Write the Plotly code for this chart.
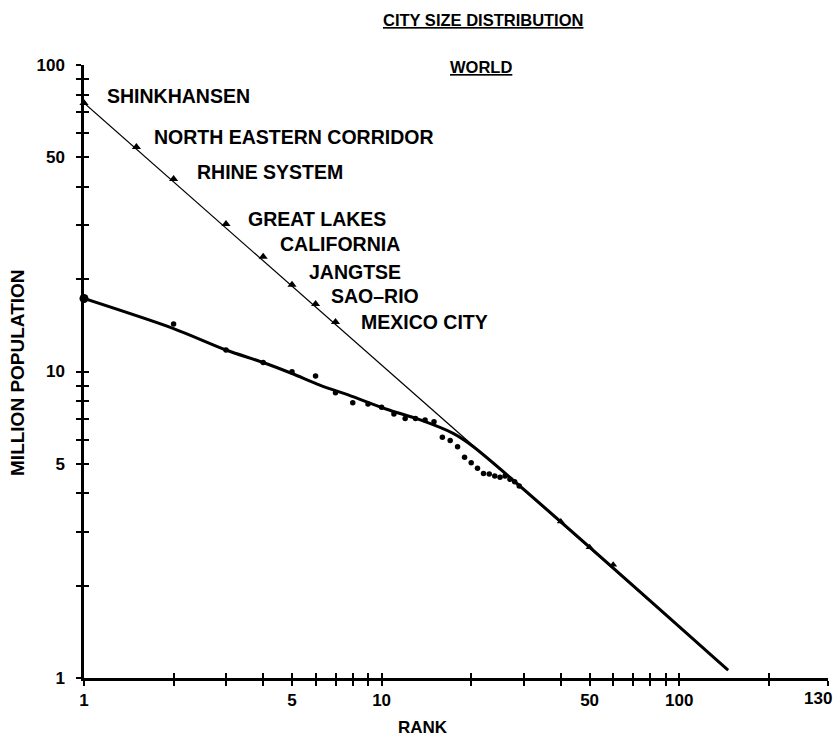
import math
import plotly.graph_objects as go

# --- data -------------------------------------------------------------
# Megalopolis systems (rank, million population)
mega_names = ["SHINKHANSEN", "NORTH EASTERN CORRIDOR", "RHINE SYSTEM",
              "GREAT LAKES", "CALIFORNIA", "JANGTSE", "SAO\u2013RIO", "MEXICO CITY"]
mega_rank = [1, 1.5, 2, 3, 4, 5, 6, 7]
mega_pop = [75.2, 54.0, 42.5, 30.3, 23.7, 19.2, 16.6, 14.5]

# Rank-size (Zipf) line through the megalopolis systems
zipf_rank = [1, 146]
zipf_pop = [75.2, 1.06]

# Individual cities
city_rank = [1, 2, 3, 4, 5, 6, 7, 8, 9, 10, 11, 12, 13, 14, 15, 16, 17, 18, 19,
             20, 21, 22, 23, 24, 25, 26, 27, 28, 29]
city_pop = [17.3, 14.3, 11.75, 10.7, 9.98, 9.67, 8.53, 7.91, 7.83, 7.64, 7.26,
            7.03, 7.03, 6.95, 6.86, 6.10, 5.95, 5.68, 5.25, 5.04, 4.83, 4.65,
            4.63, 4.56, 4.52, 4.56, 4.45, 4.37, 4.23]

# Points further down the tail
tail_rank = [40, 50, 60]
tail_pop = [3.24, 2.67, 2.34]

# Fitted city curve, joining the rank-size line
fit_rank = [1, 2, 3, 4, 5, 6.2, 8, 10.4, 13.5, 17.4, 20.3, 146]
fit_pop = [17.3, 13.8, 11.75, 10.7, 9.85, 9.03, 8.28, 7.53, 6.95, 6.28, 5.69, 1.06]

# Axis ticks (last one is the axis end, labelled separately)
x_ticks = [1, 2, 3, 4, 5, 6, 7, 8, 9, 10, 20, 30, 40, 50, 60, 70, 80, 90, 100,
           200, 316]
x_ticktext = ["1", "", "", "", "5", "", "", "", "", "10", "", "", "", "50", "",
              "", "", "", "100", "", ""]
x_end_label = "130"
y_ticks = [1, 2, 3, 4, 5, 6, 7, 8, 9, 10, 20, 30, 40, 50, 60, 70, 80, 90, 100]
y_ticktext = ["1", "", "", "", "5", "", "", "", "", "10", "", "", "", "50", "",
              "", "", "", "100"]

# label offsets (px) from each triangle
label_dx = [21, 16, 21, 20, 15, 15, 13, 23]
label_dy = [7, 10, 7, 5, 13, 13, 8, 0]

FONT = "Liberation Sans"

fig = go.Figure()

fig.add_trace(go.Scatter(x=zipf_rank, y=zipf_pop, mode="lines",
                         line=dict(color="black", width=1.2),
                         hoverinfo="skip", showlegend=False))
fig.add_trace(go.Scatter(x=fit_rank, y=fit_pop, mode="lines",
                         line=dict(color="black", width=3, shape="spline", smoothing=0.8),
                         hoverinfo="skip", showlegend=False))
fig.add_trace(go.Scatter(x=mega_rank, y=mega_pop, mode="markers",
                         marker=dict(symbol="triangle-up", size=8, color="black", opacity=1),
                         cliponaxis=False, showlegend=False))
fig.add_trace(go.Scatter(x=city_rank, y=city_pop, mode="markers",
                         marker=dict(symbol="circle", size=[9] + [5.5] * (len(city_rank) - 1),
                                     color="black", opacity=1, line=dict(width=0)),
                         cliponaxis=False, showlegend=False))
fig.add_trace(go.Scatter(x=tail_rank, y=tail_pop, mode="markers",
                         marker=dict(symbol="triangle-up", size=7, color="black", opacity=1),
                         showlegend=False))
# companion axes carrying the inner half of the cross ticks
fig.add_trace(go.Scatter(x=[1], y=[1], xaxis="x2", yaxis="y2", mode="markers",
                         marker=dict(opacity=0), hoverinfo="skip", showlegend=False))

for name, r, p, dx, dy in zip(mega_names, mega_rank, mega_pop, label_dx, label_dy):
    fig.add_annotation(x=math.log10(r), y=math.log10(p), xref="x", yref="y",
                       text=name, showarrow=False,
                       xanchor="left", yanchor="middle", xshift=dx, yshift=dy,
                       font=dict(family=FONT, size=19.5, color="black", weight="bold"))

tick_font = dict(family=FONT, size=17, color="black", weight="bold")

fig.add_annotation(x=math.log10(x_ticks[-1]), y=0, xref="x", yref="y",
                   text=x_end_label, showarrow=False, xanchor="center",
                   yanchor="top", xshift=-10, yshift=-9, font=tick_font)
fig.add_annotation(x=0.536, y=1.073, xref="paper", yref="paper",
                   text="<u>CITY SIZE DISTRIBUTION</u>", showarrow=False,
                   xanchor="center", yanchor="middle",
                   font=dict(family=FONT, size=16.5, color="black", weight="bold"))
fig.add_annotation(x=0.534, y=0.997, xref="paper", yref="paper",
                   text="<u>WORLD</u>", showarrow=False,
                   xanchor="center", yanchor="middle",
                   font=dict(family=FONT, size=16.5, color="black", weight="bold"))
fig.add_annotation(x=0.456, y=-0.080, xref="paper", yref="paper",
                   text="RANK", showarrow=False, xanchor="center", yanchor="middle",
                   font=dict(family=FONT, size=17, color="black", weight="bold"))
fig.add_annotation(x=-0.0887, y=0.4976, xref="paper", yref="paper",
                   text="MILLION POPULATION", showarrow=False, textangle=-90,
                   xanchor="center", yanchor="middle",
                   font=dict(family=FONT, size=19, color="black", weight="bold"))

axis_common = dict(type="log", showgrid=False, zeroline=False,
                   tickwidth=2, ticklen=5, tickcolor="black")

fig.update_layout(
    width=840, height=740,
    margin=dict(l=84, r=12, t=65, b=62),
    paper_bgcolor="white", plot_bgcolor="white",
    showlegend=False,
    xaxis=dict(range=[0, 2.5], tickvals=x_ticks, ticktext=x_ticktext,
               ticks="outside", showline=True, linecolor="black", linewidth=2.5,
               tickfont=tick_font, ticklabelstandoff=0, **axis_common),
    yaxis=dict(range=[0, 2], tickvals=y_ticks, ticktext=y_ticktext,
               ticks="outside", showline=True, linecolor="black", linewidth=2.5,
               tickfont=tick_font, ticklabelstandoff=8, **axis_common),
    xaxis2=dict(range=[0, 2.5], tickvals=x_ticks, ticks="inside",
                showticklabels=False, showline=False, overlaying="x",
                anchor="y2", side="bottom", **axis_common),
    yaxis2=dict(range=[0, 2], tickvals=y_ticks, ticks="inside",
                showticklabels=False, showline=False, overlaying="y",
                anchor="x2", side="left", **axis_common),
)

fig.write_html("out.html")
